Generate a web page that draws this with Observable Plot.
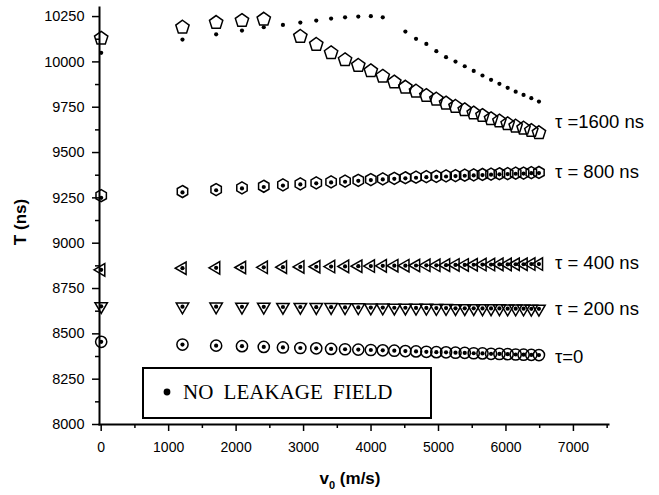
<!DOCTYPE html>
<html><head><meta charset="utf-8">
<script src="https://cdn.jsdelivr.net/npm/d3@7"></script>
<script src="https://cdn.jsdelivr.net/npm/@observablehq/plot@0.6"></script>
<style>
body{margin:0;background:#fff;}
#chart{position:relative;width:659px;height:495px;}
</style>
</head><body><div id="chart"></div>
<script>
// ---- data ----
const v0 = [0, 1205, 1704, 2087, 2410, 2694, 2952, 3188, 3408, 3615, 3811, 3997, 4174, 4345, 4509, 4667, 4820, 4968, 5112, 5252, 5389, 5522, 5652, 5779, 5903, 6025, 6144, 6261, 6376, 6489];

const tau1600 = [10130, 10191, 10217, 10228, 10235, null, 10140, 10096, 10050, 10011, 9980, 9950, 9920, 9888, 9860, 9838, 9814, 9794, 9772, 9754, 9735, 9717, 9704, 9686, 9673, 9658, 9645, 9634, 9621, 9609];
const tau1600NoLeak = [10050, 10123, 10152, 10173, 10191, 10204, 10217, 10228, 10239, 10246, 10250, 10252, 10246, null, 10167, 10127, 10099, 10059, 10026, 10002, 9976, 9950, 9925, 9901, 9879, 9857, 9836, 9818, 9800, 9781];

const tau800 = [9262, 9285, 9296, 9305, 9314, 9322, 9327, 9333, 9338, 9342, 9347, 9351, 9355, 9358, 9361, 9364, 9367, 9369, 9371, 9373, 9375, 9377, 9379, 9381, 9383, 9384, 9386, 9387, 9389, 9390];
const tau800NoLeak = [9250, 9280, 9292, 9302, 9310, 9318, 9324, 9330, 9335, 9339, 9344, 9348, 9352, 9355, 9358, 9361, 9364, 9366, 9368, 9370, 9372, 9374, 9376, 9378, 9380, 9381, 9383, 9384, 9386, 9387];

const tau400 = [8853, 8862, 8864, 8866, 8867, 8868, 8869, 8870, 8871, 8872, 8873, 8874, 8875, 8876, 8876, 8877, 8878, 8878, 8879, 8880, 8880, 8881, 8882, 8882, 8883, 8883, 8884, 8884, 8885, 8885];
const tau400NoLeak = [8853, 8862, 8864, 8866, 8867, 8868, 8869, 8870, 8871, 8872, 8873, 8874, 8875, 8876, 8876, 8877, 8878, 8878, 8879, 8880, 8880, 8881, 8882, 8882, 8883, 8883, 8884, 8884, 8885, 8885];

const tau200 = [8652, 8650, 8650, 8649, 8649, 8648, 8648, 8647, 8647, 8646, 8646, 8645, 8645, 8644, 8644, 8643, 8643, 8642, 8642, 8641, 8641, 8641, 8640, 8640, 8640, 8639, 8639, 8639, 8638, 8638];
const tau200NoLeak = [8652, 8650, 8650, 8649, 8649, 8648, 8648, 8647, 8647, 8646, 8646, 8645, 8645, 8644, 8644, 8643, 8643, 8642, 8642, 8641, 8641, 8641, 8640, 8640, 8640, 8639, 8639, 8639, 8638, 8638];

const tau0 = [8456, 8441, 8435, 8432, 8428, 8425, 8422, 8420, 8417, 8415, 8413, 8411, 8409, 8407, 8405, 8403, 8401, 8399, 8398, 8396, 8395, 8393, 8392, 8390, 8389, 8388, 8386, 8385, 8384, 8383];
const tau0NoLeak = [8456, 8441, 8435, 8432, 8428, 8425, 8422, 8420, 8417, 8415, 8413, 8411, 8409, 8407, 8405, 8403, 8401, 8399, 8398, 8396, 8395, 8393, 8392, 8390, 8389, 8388, 8386, 8385, 8384, 8383];

const seriesLabels = ["τ =1600 ns", "τ = 800 ns", "τ = 400 ns", "τ = 200 ns", "τ=0"];
const xTicks = [0, 1000, 2000, 3000, 4000, 5000, 6000, 7000];
const xMinorTicks = [500, 1500, 2500, 3500, 4500, 5500, 6500, 7500];
const yTicks = [8000, 8250, 8500, 8750, 9000, 9250, 9500, 9750, 10000, 10250];
const yMinorTicks = [8125, 8375, 8625, 8875, 9125, 9375, 9625, 9875, 10125];
const xTitle = ["v", "0", " (m/s)"];
const yTitle = "T (ns)";
const legendText = "NO LEAKAGE FIELD";

// ---- layout / styles ----
const labelDy = [-11, 0, -1, 0, 2];
const FONT = "'Liberation Sans', Arial, Helvetica, sans-serif";

function polygon(n, startAngle) {
  return {
    draw(ctx, size) {
      const R = Math.sqrt(size / Math.PI);
      for (let k = 0; k < n; k++) {
        const a = startAngle + 2 * Math.PI * k / n;
        const x = R * Math.cos(a), y = R * Math.sin(a);
        if (k === 0) ctx.moveTo(x, y); else ctx.lineTo(x, y);
      }
      ctx.closePath();
    }
  };
}
const pentagon = polygon(5, -Math.PI / 2);
const hexagon = polygon(6, -Math.PI / 2);
const triLeft = polygon(3, Math.PI);
const triDown = polygon(3, Math.PI / 2);

const rows = (T) => v0.map((v, i) => ({v, T: T[i]})).filter(d => d.T != null);
const hollow = {x: "v", y: "T", stroke: "black", strokeWidth: 1.5, fill: "none"};
const solid = {x: "v", y: "T", r: 2.1, fill: "black"};

const mains = [tau1600, tau800, tau400, tau200, tau0];
const last = v0.length - 1;
const labelMarks = seriesLabels.map((text, i) =>
  Plot.text([{text, v: v0[last], T: mains[i][last]}],
    {x: "v", y: "T", text: "text", dx: 16, dy: labelDy[i], textAnchor: "start", fontSize: 18.5, fill: "black"}));

const fmt = d => String(d);

const plot = Plot.plot({
  width: 659, height: 495,
  marginLeft: 99, marginRight: 51, marginTop: 7, marginBottom: 71,
  x: {domain: [-25, 7520]},
  y: {domain: [8000, 10300]},
  style: {fontFamily: FONT, background: "white", color: "black"},
  marks: [
    Plot.axisX({ticks: xTicks, tickSize: 7, tickPadding: 11, fontSize: 14, tickFormat: fmt, label: null, strokeWidth: 1.5}),
    Plot.axisX({ticks: xMinorTicks, tickSize: 4, tickFormat: () => "", label: null, strokeWidth: 1.5}),
    Plot.axisY({ticks: yTicks, tickSize: 7, tickPadding: 8, fontSize: 14.5, tickFormat: fmt, label: null, strokeWidth: 1.5}),
    Plot.axisY({ticks: yMinorTicks, tickSize: 4, tickFormat: () => "", label: null, strokeWidth: 1.5}),
    Plot.frame({anchor: "left", strokeWidth: 2}),
    Plot.frame({anchor: "bottom", strokeWidth: 2}),
    Plot.dot(rows(tau1600), {...hollow, symbol: pentagon, r: 7}),
    Plot.dot(rows(tau800), {...hollow, symbol: hexagon, r: 6}),
    Plot.dot(rows(tau400), {...hollow, symbol: triLeft, r: 7.2}),
    Plot.dot(rows(tau200), {...hollow, symbol: triDown, r: 7.2}),
    Plot.dot(rows(tau0), {...hollow, symbol: "circle", r: 5.6}),
    Plot.dot(rows(tau1600NoLeak), solid),
    Plot.dot(rows(tau800NoLeak), solid),
    Plot.dot(rows(tau400NoLeak), solid),
    Plot.dot(rows(tau200NoLeak), solid),
    Plot.dot(rows(tau0NoLeak), solid),
    ...labelMarks
  ]
});
document.getElementById("chart").appendChild(plot);

// titles and legend box
const svg = d3.select(plot);
svg.append("text")
  .attr("transform", "translate(26,222) rotate(-90)")
  .attr("text-anchor", "middle")
  .attr("font-family", FONT).attr("font-size", 17).attr("font-weight", "bold")
  .attr("fill", "black")
  .text(yTitle);
const xt = svg.append("text")
  .attr("x", 350).attr("y", 484)
  .attr("text-anchor", "middle")
  .attr("font-family", FONT).attr("font-size", 17).attr("font-weight", "bold")
  .attr("fill", "black");
xt.append("tspan").text(xTitle[0]);
xt.append("tspan").attr("font-size", 11).attr("dy", 5).text(xTitle[1]);
xt.append("tspan").attr("dy", -5).text(xTitle[2]);

const lg = svg.append("g");
lg.append("rect").attr("x", 143).attr("y", 368).attr("width", 288).attr("height", 50)
  .attr("fill", "white").attr("stroke", "black").attr("stroke-width", 2);
lg.append("circle").attr("cx", 167).attr("cy", 392).attr("r", 3.4).attr("fill", "black");
lg.append("text").attr("x", 183).attr("y", 399).attr("text-anchor", "start")
  .attr("font-family", "'Liberation Serif', 'Times New Roman', serif").attr("font-size", 21)
  .attr("word-spacing", 5)
  .attr("fill", "black").text(legendText);
</script>
</body></html>
